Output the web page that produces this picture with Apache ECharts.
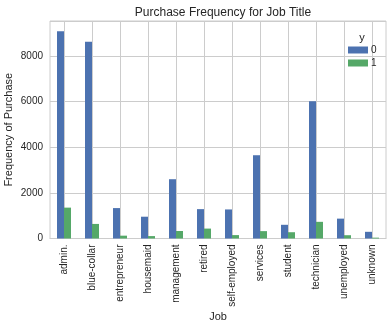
<!DOCTYPE html>
<html>
<head>
<meta charset="utf-8">
<script src="https://cdn.jsdelivr.net/npm/echarts@6/dist/echarts.min.js"></script>
<style>html,body{margin:0;padding:0;background:#fff;}#c{width:392px;height:329px;}</style>
</head>
<body>
<div id="c"></div>
<script>
var categories = ['admin.', 'blue-collar', 'entrepreneur', 'housemaid', 'management', 'retired', 'self-employed', 'services', 'student', 'technician', 'unemployed', 'unknown'];
var y0 = [9070, 8616, 1332, 954, 2596, 1286, 1272, 3646, 600, 6013, 870, 293];
var y1 = [1352, 638, 124, 106, 328, 434, 149, 323, 275, 730, 144, 37];
var seriesNames = ['0', '1'];
var yTicks = [0, 2000, 4000, 6000, 8000];

var FONT = 'Liberation Sans, Arial, sans-serif';
var TXT = '#262626';
var GRID = '#cccccc';
var halfSlots = [];
for (var i = 0; i < categories.length * 2 + 1; i++) halfSlots.push(String(i));

var chart = echarts.init(document.getElementById('c'), null, {renderer: 'canvas'});
chart.setOption({
  animation: false,
  backgroundColor: '#ffffff',
  color: ['#4C72B0', '#55A868'],
  title: [
    {text: 'Purchase Frequency for Job Title', left: 218, top: 2, textAlign: 'center',
     textStyle: {fontFamily: FONT, fontSize: 12, fontWeight: 'normal', color: TXT}},
    {text: 'y', left: 357, top: 27, textAlign: 'center',
     textStyle: {fontFamily: FONT, fontSize: 11, fontWeight: 'normal', color: TXT}}
  ],
  legend: {
    data: seriesNames, orient: 'vertical', left: 343, top: 40,
    itemWidth: 20, itemHeight: 7, itemGap: 3, icon: 'rect',
    textStyle: {fontFamily: FONT, fontSize: 10, color: TXT, padding: [0, 0, 0, -2]}
  },
  grid: {left: 50, right: 6, top: 21, bottom: 90.5, show: true, borderColor: GRID, borderWidth: 1,
         containLabel: false, outerBoundsMode: 'none'},
  xAxis: [
    {type: 'category', data: categories, boundaryGap: true,
     name: 'Job', nameLocation: 'middle', nameGap: 73, nameMoveOverlap: false,
     nameTextStyle: {fontFamily: FONT, fontSize: 11, color: TXT},
     axisLine: {show: true, lineStyle: {color: GRID, width: 1}},
     axisTick: {show: false}, splitLine: {show: false},
     axisLabel: {rotate: 90, margin: 6, fontFamily: FONT, fontSize: 10, color: TXT, interval: 0}},
    {type: 'category', data: halfSlots, boundaryGap: false, position: 'bottom',
     axisLine: {show: false}, axisTick: {show: false}, axisLabel: {show: false},
     splitLine: {show: true, interval: function (idx) { return idx % 2 === 1; }, lineStyle: {color: GRID, width: 1}}}
  ],
  yAxis: {
    type: 'value', min: 0, max: 9523.5, interval: 2000,
    name: 'Frequency of Purchase', nameLocation: 'middle', nameGap: 36, nameMoveOverlap: false,
    nameTextStyle: {fontFamily: FONT, fontSize: 11, color: TXT},
    axisLine: {show: false}, axisTick: {show: false},
    axisLabel: {margin: 7, fontFamily: FONT, fontSize: 10, color: TXT, showMaxLabel: false,
      formatter: function (v) { return yTicks.indexOf(v) >= 0 ? String(v) : ''; }},
    splitLine: {show: true, lineStyle: {color: GRID, width: 1}}
  },
  series: [
    {name: seriesNames[0], type: 'bar', data: y0, barWidth: '25%', barGap: '0%', xAxisIndex: 0, z: 3},
    {name: seriesNames[1], type: 'bar', data: y1, barWidth: '25%', barGap: '0%', xAxisIndex: 0, z: 3}
  ]
});
</script>
</body>
</html>
